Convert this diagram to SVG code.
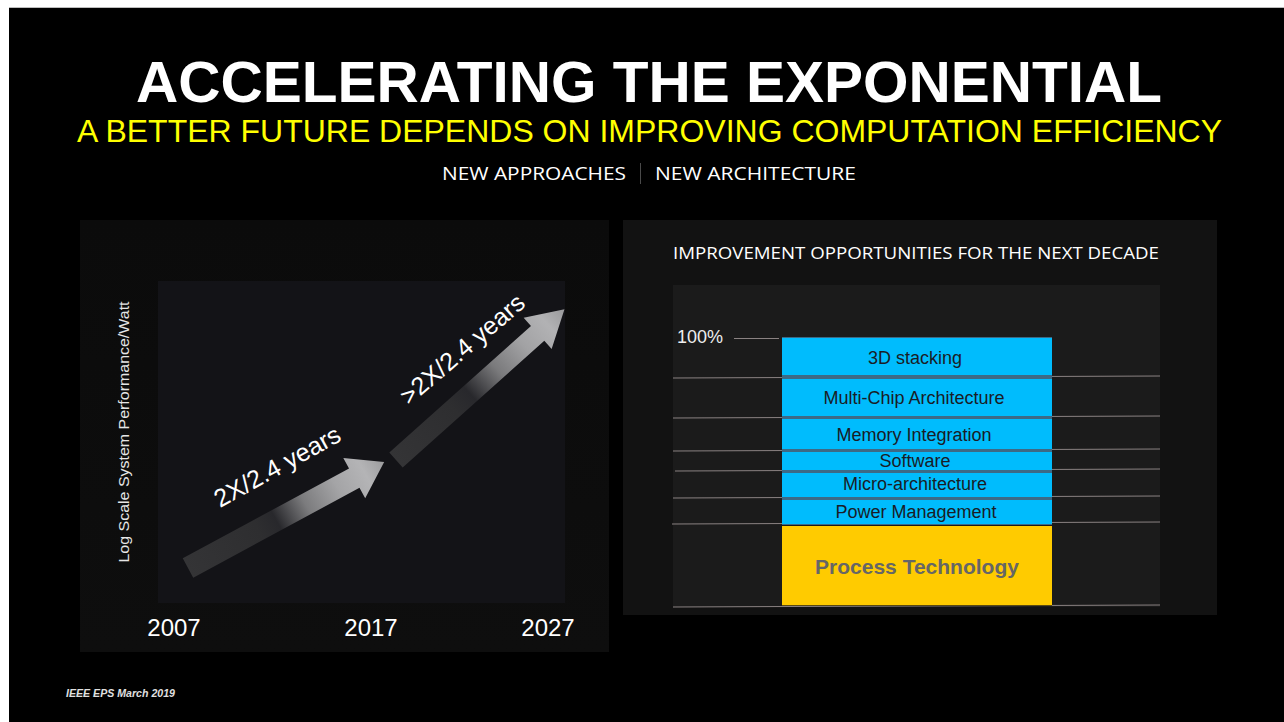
<svg xmlns="http://www.w3.org/2000/svg" width="1284" height="722" viewBox="0 0 1284 722">
  <defs>
    <style>
      .sans { font-family: "Liberation Sans", Arial, sans-serif; }
      .open { font-family: "Open Sans", "Liberation Sans", sans-serif; }
      .bar { fill: #00bcfd; }
      .bar-label { font-family: "Liberation Sans", Arial, sans-serif; font-size: 18px; fill: #1a1c26; text-anchor: middle; }
      .grid { stroke: #8a8282; stroke-width: 1; fill: none; }
      .year { font-family: "Liberation Sans", Arial, sans-serif; font-size: 24px; fill: #ffffff; text-anchor: middle; }
      .rate { font-family: "Liberation Sans", Arial, sans-serif; font-size: 25px; fill: #ffffff; }
    </style>
    <linearGradient id="arrowShade1" gradientUnits="userSpaceOnUse" x1="0" y1="0" x2="223" y2="0">
      <stop offset="0" stop-color="#343436"/>
      <stop offset="0.36" stop-color="#2e2e30"/>
      <stop offset="0.45" stop-color="#28282c"/>
      <stop offset="0.6" stop-color="#7c7c7e"/>
      <stop offset="0.76" stop-color="#a4a4a6"/>
      <stop offset="0.9" stop-color="#b4b4b6"/>
      <stop offset="1" stop-color="#9c9c9e"/>
    </linearGradient>
    <linearGradient id="arrowShade2" gradientUnits="userSpaceOnUse" x1="0" y1="0" x2="226" y2="0">
      <stop offset="0" stop-color="#343436"/>
      <stop offset="0.34" stop-color="#2e2e30"/>
      <stop offset="0.44" stop-color="#28282c"/>
      <stop offset="0.6" stop-color="#7a7a7c"/>
      <stop offset="0.76" stop-color="#a2a2a4"/>
      <stop offset="0.9" stop-color="#b2b2b4"/>
      <stop offset="1" stop-color="#9a9a9c"/>
    </linearGradient>
    <linearGradient id="leftPanelFill" x1="0" y1="0" x2="0" y2="1">
      <stop offset="0" stop-color="#0b0b0b"/>
      <stop offset="1" stop-color="#0e0e0e"/>
    </linearGradient>
  </defs>

  <!-- slide frame -->
  <rect x="0" y="0" width="1284" height="722" fill="#ffffff"/>
  <rect x="9" y="7" width="1275" height="715" fill="#000000"/>
  <line x1="9" y1="7.5" x2="1284" y2="7.5" stroke="#bdbdbd" stroke-width="1"/>

  <!-- headings -->
  <g id="title">
    <text class="sans" x="649" y="102" font-size="58" font-weight="bold" fill="#ffffff" text-anchor="middle" textLength="1026" lengthAdjust="spacingAndGlyphs">ACCELERATING THE EXPONENTIAL</text>
    <text class="sans" x="649.5" y="142" font-size="32" fill="#ffff00" text-anchor="middle" textLength="1145" lengthAdjust="spacingAndGlyphs">A BETTER FUTURE DEPENDS ON IMPROVING COMPUTATION EFFICIENCY</text>
  </g>
  <g id="tagline">
    <text class="open" x="442" y="180" font-size="19" fill="#ffffff" textLength="184" lengthAdjust="spacingAndGlyphs">NEW APPROACHES</text>
    <line x1="640.5" y1="163" x2="640.5" y2="184" stroke="#4a4a4a" stroke-width="1"/>
    <text class="open" x="655" y="180" font-size="19" fill="#ffffff" textLength="201" lengthAdjust="spacingAndGlyphs">NEW ARCHITECTURE</text>
  </g>

  <!-- left chart: efficiency trend -->
  <g id="trend-chart">
    <rect x="80" y="220" width="529" height="432" fill="url(#leftPanelFill)"/>
    <rect x="158" y="281" width="407" height="322" fill="#131317"/>
    <text class="sans" transform="translate(129,432) rotate(-90)" font-size="15.5" fill="#e6e6e6" text-anchor="middle" textLength="261" lengthAdjust="spacingAndGlyphs">Log Scale System Performance/Watt</text>
    <text class="year" x="174" y="636">2007</text>
    <text class="year" x="371" y="636">2017</text>
    <text class="year" x="548" y="636">2027</text>
  </g>

  <g id="trend-arrows">
    <g id="arrow-2007-2017" transform="translate(188,568) rotate(-28.4)">
      <polygon points="0,-11 189,-11 189,-23 223,0 189,23 189,11 0,11" fill="url(#arrowShade1)"/>
    </g>
    <g id="arrow-2017-2027" transform="translate(396,460) rotate(-41.8)">
      <polygon points="0,-10 190,-10 190,-21 226,0 190,21 190,10 0,10" fill="url(#arrowShade2)"/>
    </g>
    <text class="rate" transform="translate(220,508) rotate(-29)">2X/2.4 years</text>
    <text class="rate" transform="translate(409,406) rotate(-40.5)">&gt;2X/2.4 years</text>
  </g>

  <!-- right chart: improvement opportunities -->
  <g id="opportunity-chart">
    <rect x="623" y="220" width="594" height="395" fill="#121212"/>
    <rect x="673" y="285" width="487" height="322" fill="#1b1b1b"/>
    <text class="open" x="673" y="259" font-size="17" fill="#ffffff" textLength="486" lengthAdjust="spacingAndGlyphs">IMPROVEMENT OPPORTUNITIES FOR THE NEXT DECADE</text>
    <text class="sans" x="677" y="343" font-size="18" fill="#eeeeee">100%</text>
    <line class="grid" x1="734" y1="338.5" x2="779" y2="338.5"/>
    <line class="grid" x1="673" y1="378" x2="1160" y2="376"/>
    <line class="grid" x1="673" y1="418" x2="1160" y2="416"/>
    <line class="grid" x1="673" y1="451" x2="1160" y2="449"/>
    <line class="grid" x1="675" y1="471" x2="1160" y2="469"/>
    <line class="grid" x1="673" y1="498" x2="1160" y2="496"/>
    <line class="grid" x1="672" y1="524" x2="1160" y2="522"/>
    <line class="grid" x1="673" y1="607" x2="1160" y2="605"/>
  </g>

  <g id="stack">
    <rect x="782" y="337" width="270" height="188" fill="#3d6a86"/>
    <g id="seg-3d-stacking">
      <rect class="bar" x="782" y="338" width="270" height="37"/>
      <text class="bar-label" x="915" y="364">3D stacking</text>
    </g>
    <g id="seg-multi-chip">
      <rect class="bar" x="782" y="379" width="270" height="37"/>
      <text class="bar-label" x="914" y="404">Multi-Chip Architecture</text>
    </g>
    <g id="seg-memory">
      <rect class="bar" x="782" y="419" width="270" height="30"/>
      <text class="bar-label" x="914" y="441">Memory Integration</text>
    </g>
    <g id="seg-software">
      <rect class="bar" x="782" y="452" width="270" height="18"/>
      <text class="bar-label" x="915" y="467">Software</text>
    </g>
    <g id="seg-micro-arch">
      <rect class="bar" x="782" y="473" width="270" height="24"/>
      <text class="bar-label" x="915" y="490">Micro-architecture</text>
    </g>
    <g id="seg-power">
      <rect class="bar" x="782" y="500" width="270" height="24"/>
      <text class="bar-label" x="916" y="518">Power Management</text>
    </g>
    <g id="seg-process">
      <rect x="782" y="526" width="270" height="79" fill="#ffcb00"/>
      <line x1="782" y1="605.5" x2="1052" y2="605.5" stroke="#5a4a10" stroke-width="1"/>
      <text class="sans" x="917" y="574" font-size="21" font-weight="bold" fill="#666666" text-anchor="middle">Process Technology</text>
    </g>
  </g>

  <!-- footer -->
  <text class="sans" x="66" y="697" font-size="10" font-weight="bold" font-style="italic" fill="#e0e0e0" textLength="109" lengthAdjust="spacingAndGlyphs">IEEE EPS March 2019</text>
</svg>
